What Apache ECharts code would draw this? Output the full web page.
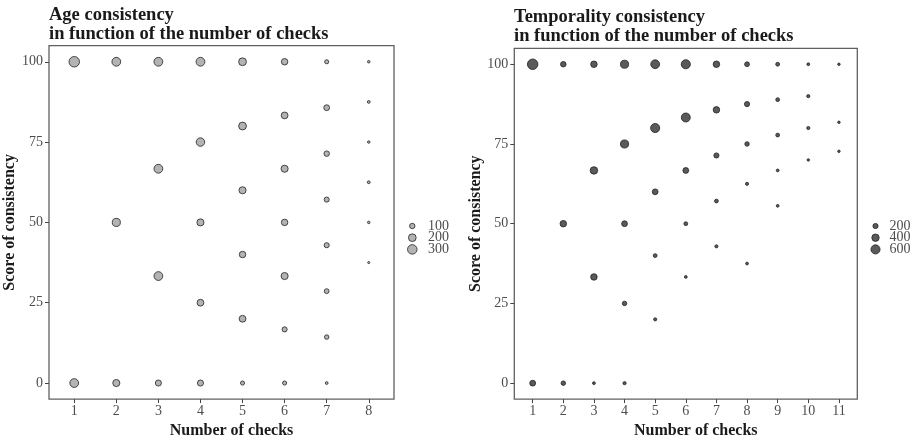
<!DOCTYPE html>
<html>
<head>
<meta charset="utf-8">
<script src="https://cdn.jsdelivr.net/npm/echarts@6/dist/echarts.min.js"></script>
<style>
  html, body { margin: 0; padding: 0; background: #fff; }
  #chart { width: 915px; height: 444px; }
</style>
</head>
<body>
<div id="chart"></div>
<script>
// age consistency: number of checks, score, number of people
var ageChecks = [1, 1,
  2, 2, 2,
  3, 3, 3, 3,
  4, 4, 4, 4, 4,
  5, 5, 5, 5, 5, 5,
  6, 6, 6, 6, 6, 6, 6,
  7, 7, 7, 7, 7, 7, 7, 7,
  8, 8, 8, 8, 8, 8];
var ageScores = [100, 0,
  100, 50, 0,
  100, 66.7, 33.3, 0,
  100, 75, 50, 25, 0,
  100, 80, 60, 40, 20, 0,
  100, 83.3, 66.7, 50, 33.3, 16.7, 0,
  100, 85.7, 71.4, 57.1, 42.9, 28.6, 14.3, 0,
  100, 87.5, 75, 62.5, 50, 37.5];
var ageCounts = [365, 258,
  258, 220, 171,
  258, 258, 258, 127,
  258, 240, 171, 156, 127,
  204, 204, 171, 143, 156, 59,
  143, 156, 171, 143, 171, 90, 59,
  59, 115, 103, 90, 90, 80, 70, 29,
  23, 29, 23, 29, 23, 17];

// temporality consistency
var tempChecks = [1, 1,
  2, 2, 2,
  3, 3, 3, 3,
  4, 4, 4, 4, 4,
  5, 5, 5, 5, 5,
  6, 6, 6, 6, 6,
  7, 7, 7, 7, 7,
  8, 8, 8, 8, 8,
  9, 9, 9, 9, 9,
  10, 10, 10, 10,
  11, 11, 11];
var tempScores = [100, 0,
  100, 50, 0,
  100, 66.7, 33.3, 0,
  100, 75, 50, 25, 0,
  100, 80, 60, 40, 20,
  100, 83.3, 66.7, 50, 33.3,
  100, 85.7, 71.4, 57.1, 42.9,
  100, 87.5, 75, 62.5, 37.5,
  100, 88.9, 77.8, 66.7, 55.6,
  100, 90, 80, 70,
  100, 81.8, 72.7];
var tempCounts = [793, 250,
  225, 311, 151,
  311, 408, 311, 62,
  477, 477, 249, 151, 77,
  561, 599, 249, 111, 77,
  599, 580, 249, 111, 62,
  311, 311, 197, 111, 77,
  173, 197, 151, 77, 62,
  111, 111, 111, 62, 62,
  62, 77, 77, 50,
  50, 50, 50];

var ageXTicks = [1, 2, 3, 4, 5, 6, 7, 8];
var tempXTicks = [1, 2, 3, 4, 5, 6, 7, 8, 9, 10, 11];
var scoreTicks = [0, 25, 50, 75, 100];
var ageLegend = [100, 200, 300];
var tempLegend = [200, 400, 600];

var font = 'Liberation Serif';
var ageFill = '#b3b3b3';
var tempFill = '#5a5a5a';

function ageSize(c) { return 0.56 * Math.sqrt(c) - 0.2; }
function tempSize(c) { return 0.38 * Math.sqrt(c) - 0.2; }

function points(xs, ys, cs) {
  var out = [];
  for (var i = 0; i < xs.length; i++) out.push([xs[i], ys[i], cs[i]]);
  return out;
}

function xAxis(grid, ticks, max) {
  return {
    type: 'value', gridIndex: grid, min: 0.4, max: max,
    name: 'Number of checks', nameLocation: 'middle', nameGap: 17,
    nameTextStyle: { fontFamily: font, fontWeight: 'bold', fontSize: 16, color: '#1a1a1a', padding: [0, 0, 0, 20] },
    axisLine: { show: false, onZero: false },
    axisTick: { show: true, length: 4, customValues: ticks, lineStyle: { color: '#444' } },
    axisLabel: { customValues: ticks, margin: 5, fontFamily: font, fontSize: 14, color: '#4d4d4d' },
    splitLine: { show: false }
  };
}

function yAxis(grid) {
  return {
    type: 'value', gridIndex: grid, min: -5, max: 105,
    name: 'Score of consistency', nameLocation: 'middle', nameGap: 27, nameRotate: 90,
    nameTextStyle: { fontFamily: font, fontWeight: 'bold', fontSize: 16, color: '#1a1a1a' },
    axisLine: { show: false, onZero: false },
    axisTick: { show: true, length: 4, customValues: scoreTicks, lineStyle: { color: '#444' } },
    axisLabel: { customValues: scoreTicks, margin: 6, fontFamily: font, fontSize: 14, color: '#4d4d4d' },
    splitLine: { show: false }
  };
}

function legend(values, sizeFn, fill, cx, cy0, tx) {
  var els = [];
  for (var i = 0; i < values.length; i++) {
    var y = cy0 + i * 11.7;
    var r = sizeFn(values[i]) / 2;
    els.push({ type: 'circle', shape: { cx: cx, cy: y, r: r },
      style: { fill: fill, stroke: '#222', lineWidth: 0.8 } });
    els.push({ type: 'text', x: tx, y: y,
      style: { text: String(values[i]), font: '14px "' + font + '"', fill: '#4d4d4d', verticalAlign: 'middle' } });
  }
  return els;
}

var chart = echarts.init(document.getElementById('chart'));
chart.setOption({
  backgroundColor: '#fff',
  animation: false,
  title: [
    { text: 'Age consistency\nin function of the number of checks', left: 49, top: 5.5, padding: 0,
      textStyle: { fontFamily: font, fontWeight: 'bold', fontSize: 18.5, lineHeight: 19, color: '#1a1a1a' } },
    { text: 'Temporality consistency\nin function of the number of checks', left: 514, top: 8, padding: 0,
      textStyle: { fontFamily: font, fontWeight: 'bold', fontSize: 18.5, lineHeight: 19, color: '#1a1a1a' } }
  ],
  grid: [
    { left: 49, top: 45.7, right: 521, bottom: 35.3, show: true, borderColor: '#606060', borderWidth: 1.3 },
    { left: 514.3, top: 48.3, right: 57.7, bottom: 34.7, show: true, borderColor: '#606060', borderWidth: 1.3 }
  ],
  xAxis: [xAxis(0, ageXTicks, 8.6), xAxis(1, tempXTicks, 11.6)],
  yAxis: [yAxis(0), yAxis(1)],
  series: [
    { type: 'scatter', xAxisIndex: 0, yAxisIndex: 0,
      data: points(ageChecks, ageScores, ageCounts),
      symbolSize: function (v) { return ageSize(v[2]); },
      itemStyle: { color: ageFill, borderColor: '#222', borderWidth: 0.8, opacity: 1 } },
    { type: 'scatter', xAxisIndex: 1, yAxisIndex: 1,
      data: points(tempChecks, tempScores, tempCounts),
      symbolSize: function (v) { return tempSize(v[2]); },
      itemStyle: { color: tempFill, borderColor: '#222', borderWidth: 0.8, opacity: 1 } }
  ],
  graphic: legend(ageLegend, ageSize, ageFill, 412.3, 226, 428)
    .concat(legend(tempLegend, tempSize, tempFill, 875.5, 226, 889.5))
});
</script>
</body>
</html>
